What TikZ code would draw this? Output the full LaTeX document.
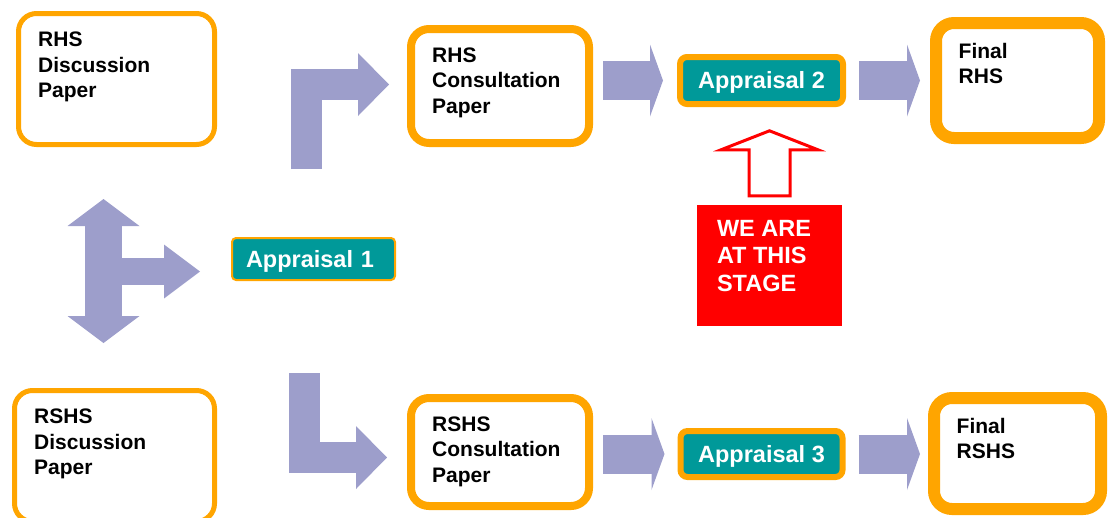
\documentclass[tikz,border=0pt]{standalone}
\usepackage{fontspec}
\setmainfont{Liberation Sans}
\usepackage{tikz}
\usetikzlibrary{arrows.meta}

\definecolor{boxorange}{HTML}{FFA500}
\definecolor{flowblue}{HTML}{9D9ECB}
\definecolor{apteal}{HTML}{009999}
\definecolor{stagered}{HTML}{FF0000}

\newcommand{\paperfont}{\fontsize{21}{25.5}\selectfont\bfseries}
\newcommand{\bigfont}{\fontsize{23.5}{27.5}\selectfont\bfseries}

\tikzstyle{paper} = [rectangle, draw=boxorange, fill=white, rounded corners=18pt]
\tikzstyle{papertext} = [anchor=north west, align=left, inner sep=0pt, font=\paperfont]
\tikzstyle{stagetext} = [papertext, font=\bigfont, text=white]
\tikzstyle{appraisal} = [rectangle, draw=boxorange, fill=apteal, text=white,
    font=\bigfont, text height=16.8pt, text depth=0pt, inner sep=0pt]
\tikzstyle{stagebox} = [rectangle, fill=stagered]
\tikzstyle{hollowarrow} = [draw=stagered, fill=white, line width=3pt]
\tikzstyle{flowarrow} = [draw=flowblue, line width=39pt,
    -{Triangle[length=13pt, width=72pt, line width=0pt]}]
\tikzstyle{elbowflow} = [draw=flowblue, line width=31pt,
    -{Triangle[length=31pt, width=63pt, line width=0pt]}]
\tikzstyle{splitflow} = [draw=flowblue, line width=37pt,
    {Triangle[length=27pt, width=72pt, line width=0pt]}-{Triangle[length=27pt, width=72pt, line width=0pt]}]
\tikzstyle{branchflow} = [draw=flowblue, line width=27pt,
    -{Triangle[length=36pt, width=54pt, line width=0pt]}]

\begin{document}
\begin{tikzpicture}[x=1pt, y=-1pt]
    \useasboundingbox (0,0) rectangle (1108,517);

    % Papers
    \node[paper, line width=5pt, minimum width=196pt, minimum height=131pt,
          label={[papertext, xshift=22pt, yshift=-21pt]north west:RHS\\Discussion\\Paper}]
          (rhsdisc) at (116.5,79) {};
    \node[paper, line width=5pt, minimum width=200pt, minimum height=131pt,
          label={[papertext, xshift=22pt, yshift=-21pt]north west:RSHS\\Discussion\\Paper}]
          (rshsdisc) at (114.5,456) {};
    \node[paper, line width=8pt, minimum width=178pt, minimum height=114pt,
          label={[papertext, xshift=25pt, yshift=-22.5pt]north west:RHS\\Consultation\\Paper}]
          (rhscons) at (500,86) {};
    \node[paper, line width=8pt, minimum width=178pt, minimum height=108pt,
          label={[papertext, xshift=25pt, yshift=-22.5pt]north west:RSHS\\Consultation\\Paper}]
          (rshscons) at (500,452) {};
    \node[paper, line width=12pt, minimum width=163pt, minimum height=115pt,
          label={[papertext, xshift=28.5pt, yshift=-25.7pt]north west:Final\\RHS}]
          (finalrhs) at (1017.5,80.5) {};
    \node[paper, line width=12pt, minimum width=167pt, minimum height=111pt,
          label={[papertext, xshift=28.5pt, yshift=-25.7pt]north west:Final\\RSHS}]
          (finalrshs) at (1017.5,453.5) {};

    % Appraisals
    \node[appraisal, line width=2pt, rounded corners=4pt, minimum width=163pt,
          minimum height=42pt, text width=135pt, align=left] (app1) at (313.5,259) {Appraisal 1};
    \node[appraisal, line width=6pt, rounded corners=7pt, minimum width=163pt,
          minimum height=47pt] (app2) at (761.5,80.5) {Appraisal 2};
    \node[appraisal, line width=6pt, rounded corners=7pt, minimum width=162pt,
          minimum height=46pt] (app3) at (761.5,454) {Appraisal 3};

    % Stage marker
    \node[stagebox, minimum width=145pt, minimum height=121pt,
          label={[stagetext, xshift=20pt, yshift=-15pt]north west:WE ARE\\AT THIS\\STAGE}]
          (stage) at (769.5,265.5) {};
    \draw[hollowarrow] ([xshift=-20.5pt, yshift=9pt]stage.north) -- ++(0,-46) -- ++(-28,0)
        -- ++(48.5,-19) -- ++(48.5,19) -- ++(-28,0) -- ++(0,46) -- cycle;

    % Arrows
    \coordinate (hubtop) at (103.5,199);
    \coordinate (hubbot) at (103.5,343);
    \coordinate (hub) at (103.5,271.5);
    \coordinate (upfoot) at (306.5,169);
    \coordinate (downtop) at (304,373);
    \draw[splitflow] (hubtop) -- (hubbot);
    \draw[branchflow] (hub) -- ([xshift=-31pt]app1.west |- hub);
    \draw[elbowflow] (upfoot) |- ([xshift=-18pt, yshift=1.5pt]rhscons.west);
    \draw[elbowflow] (downtop) |- ([xshift=-20pt, yshift=-5.5pt]rshscons.west);
    \draw[flowarrow] ([xshift=10pt]rhscons.east |- app2.west) -- ([xshift=-14pt]app2.west);
    \draw[flowarrow] ([xshift=13pt]app2.east) -- ([xshift=-10pt]finalrhs.west |- app2.east);
    \draw[flowarrow] ([xshift=10pt]rshscons.east |- app3.west) -- ([xshift=-13pt]app3.west);
    \draw[flowarrow] ([xshift=13pt]app3.east) -- ([xshift=-8pt]finalrshs.west |- app3.east);
\end{tikzpicture}
\end{document}
